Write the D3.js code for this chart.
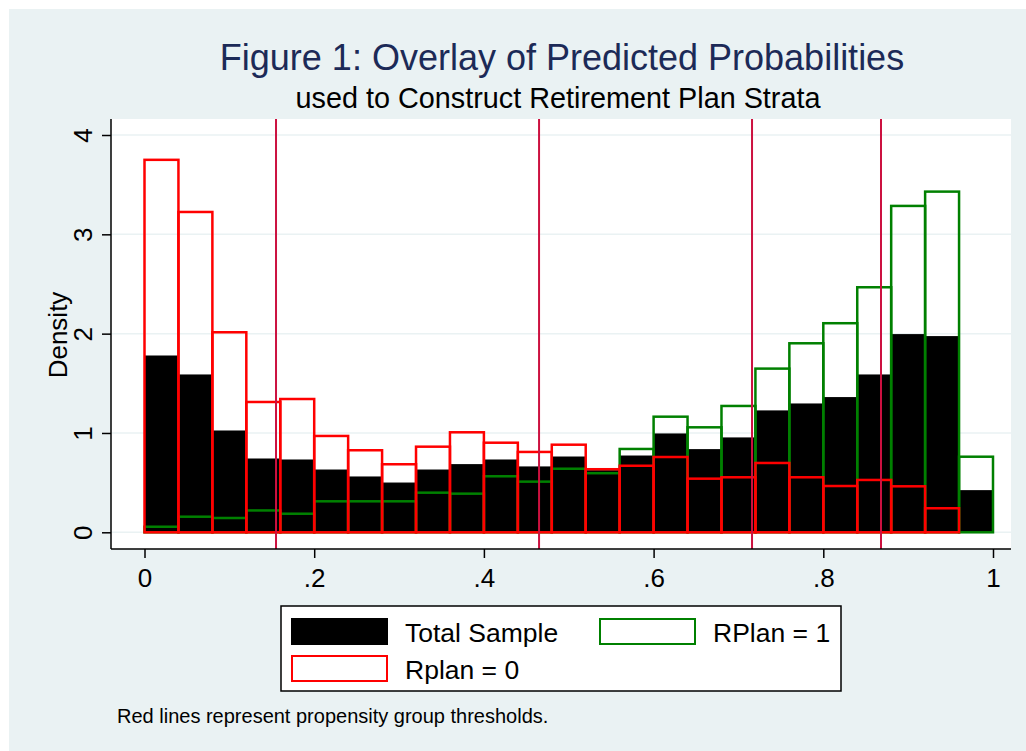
<!DOCTYPE html>
<html>
<head>
<meta charset="utf-8">
<script src="https://cdn.jsdelivr.net/npm/d3@7/dist/d3.min.js"></script>
<style>
  body { margin: 0; background: #fff; }
  svg { display: block; font-family: "Liberation Sans", Arial, sans-serif; }
</style>
</head>
<body>
<div id="chart"></div>
<script>
// histogram bins, width .04 starting at 0
const binStarts = d3.range(25).map((i) => i * 0.04);
const totalSample = [1.775, 1.584, 1.02, 0.738, 0.728, 0.627, 0.557, 0.496, 0.627, 0.681,
  0.728, 0.658, 0.758, 0.62, 0.768, 0.99, 0.832, 0.95, 1.222, 1.292,
  1.356, 1.584, 1.99, 1.97, 0.419];
const rplan1 = [0.056, 0.157, 0.144, 0.22, 0.187, 0.312, 0.312, 0.312, 0.399, 0.389,
  0.564, 0.51, 0.64, 0.595, 0.839, 1.164, 1.057, 1.272, 1.648, 1.903,
  2.105, 2.467, 3.286, 3.43, 0.761];
const rplan0 = [3.75, 3.225, 2.014, 1.312, 1.342, 0.97, 0.826, 0.685, 0.862, 1.007,
  0.902, 0.809, 0.882, 0.635, 0.67, 0.758, 0.54, 0.554, 0.698, 0.554,
  0.466, 0.527, 0.463, 0.242, 0];
const thresholds = [0.155, 0.465, 0.716, 0.868];
const xTicks = [0, 0.2, 0.4, 0.6, 0.8, 1];
const yTicks = [0, 1, 2, 3, 4];
const binWidth = 0.04;

const W = 1026, H = 751;
const plot = { left: 111, right: 1011, top: 119, bottom: 549 };

const svg = d3.select("#chart").append("svg").attr("width", W).attr("height", H);

// graph region
svg.append("rect").attr("x", 9).attr("y", 9).attr("width", W - 9).attr("height", H - 9)
  .attr("fill", "#eaf2f3");
svg.append("rect").attr("x", plot.left).attr("y", plot.top)
  .attr("width", plot.right - plot.left).attr("height", plot.bottom - plot.top)
  .attr("fill", "#fff");

const x = d3.scaleLinear().domain([0, 1]).range([144.5, 993]);
const y = d3.scaleLinear().domain([0, 4]).range([532.3, 135]);

// grid
svg.append("g").selectAll("line").data(yTicks).enter().append("line")
  .attr("x1", plot.left).attr("x2", plot.right)
  .attr("y1", (d) => y(d)).attr("y2", (d) => y(d))
  .attr("stroke", "#eaf2f3").attr("stroke-width", 1.5);

function drawBars(values, cls, fill, stroke, sw) {
  svg.append("g").selectAll("rect." + cls)
    .data(binStarts.map((b, i) => ({ b, v: values[i] })).filter((d) => d.v > 0))
    .enter().append("rect")
    .attr("class", cls)
    .attr("x", (d) => x(d.b))
    .attr("width", (d) => x(d.b + binWidth) - x(d.b))
    .attr("y", (d) => y(d.v))
    .attr("height", (d) => y(0) - y(d.v))
    .attr("fill", fill)
    .attr("stroke", stroke)
    .attr("stroke-width", sw);
}
drawBars(totalSample, "total", "#000", "#000", 1);
drawBars(rplan1, "rp1", "none", "#008000", 2.5);
drawBars(rplan0, "rp0", "none", "#ff0000", 2.5);

// threshold lines
svg.append("g").selectAll("line").data(thresholds).enter().append("line")
  .attr("x1", (d) => x(d)).attr("x2", (d) => x(d))
  .attr("y1", plot.top).attr("y2", plot.bottom)
  .attr("stroke", "#cc1140").attr("stroke-width", 2);

// axes
const yAxis = svg.append("g").attr("transform", `translate(${plot.left},0)`)
  .call(d3.axisLeft(y).tickValues(yTicks).tickFormat(d3.format("d")).tickSize(9));
yAxis.select(".domain").remove();
yAxis.append("line").attr("x1", 0).attr("x2", 0).attr("y1", plot.top).attr("y2", plot.bottom)
  .attr("stroke", "#000").attr("stroke-width", 1.5);
yAxis.selectAll(".tick line").attr("stroke-width", 1.5);
yAxis.selectAll(".tick text")
  .attr("x", null).attr("dy", null)
  .attr("transform", "translate(-19,0) rotate(-90)")
  .attr("text-anchor", "middle")
  .style("font-family", "Liberation Sans, Arial, sans-serif")
  .style("font-size", "26px").attr("fill", "#000");

const xAxis = svg.append("g").attr("transform", `translate(0,${plot.bottom})`)
  .call(d3.axisBottom(x).tickValues(xTicks)
    .tickFormat((d) => (d === 0 ? "0" : d === 1 ? "1" : d3.format(".1f")(d).replace(/^0/, "")))
    .tickSize(9));
xAxis.select(".domain").remove();
xAxis.append("line").attr("x1", plot.left).attr("x2", plot.right).attr("y1", 0).attr("y2", 0)
  .attr("stroke", "#000").attr("stroke-width", 1.5);
xAxis.selectAll(".tick line").attr("stroke-width", 1.5);
xAxis.selectAll(".tick text")
  .attr("y", 38).attr("dy", null)
  .style("font-family", "Liberation Sans, Arial, sans-serif")
  .style("font-size", "26px").attr("fill", "#000");

// axis title
svg.append("text").attr("transform", "translate(67,335) rotate(-90)")
  .attr("text-anchor", "middle").attr("font-size", 26).text("Density");

// titles
svg.append("text").attr("x", 562).attr("y", 70).attr("text-anchor", "middle")
  .attr("font-size", 36).attr("fill", "#1c2a57")
  .text("Figure 1: Overlay of Predicted Probabilities");
svg.append("text").attr("x", 558).attr("y", 108).attr("text-anchor", "middle")
  .attr("font-size", 28.8).attr("fill", "#000")
  .text("used to Construct Retirement Plan Strata");

// legend
const legend = svg.append("g");
legend.append("rect").attr("x", 281).attr("y", 606).attr("width", 560).attr("height", 85)
  .attr("fill", "#fff").attr("stroke", "#000").attr("stroke-width", 1.5);
const legendItems = [
  { label: "Total Sample", fill: "#000", stroke: "#000", sx: 292, sy: 619 },
  { label: "RPlan = 1", fill: "#fff", stroke: "#008000", sx: 600, sy: 619 },
  { label: "Rplan = 0", fill: "#fff", stroke: "#ff0000", sx: 292, sy: 656 },
];
legendItems.forEach((d) => {
  legend.append("rect").attr("x", d.sx).attr("y", d.sy).attr("width", 95).attr("height", 25)
    .attr("fill", d.fill).attr("stroke", d.stroke).attr("stroke-width", 2);
  legend.append("text").attr("x", d.sx + 113).attr("y", d.sy + 23)
    .attr("font-size", 26.5).text(d.label);
});

// note
svg.append("text").attr("x", 117).attr("y", 723).attr("font-size", 20)
  .text("Red lines represent propensity group thresholds.");
</script>
</body>
</html>
